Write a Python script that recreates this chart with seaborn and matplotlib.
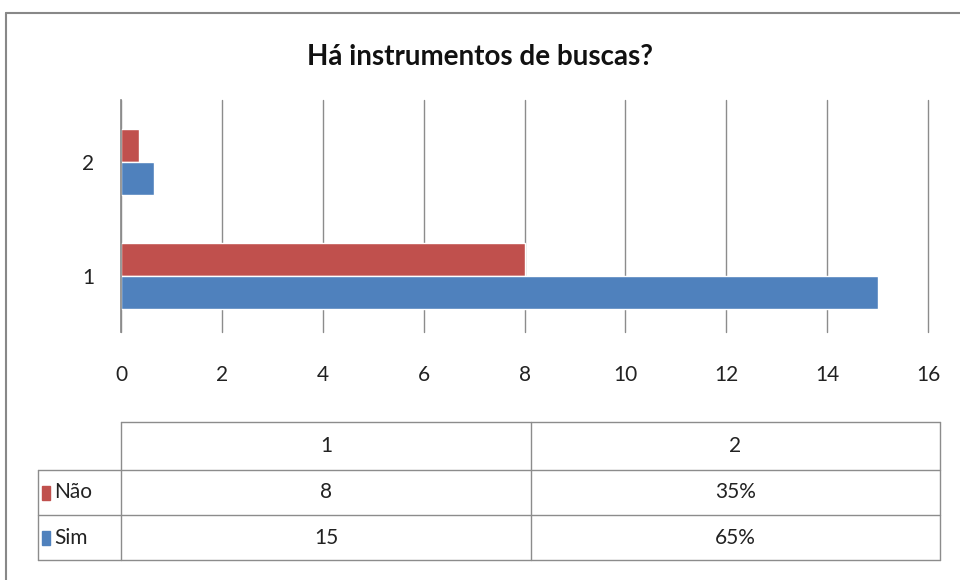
import numpy as np
import pandas as pd
import matplotlib
matplotlib.use("Agg")
import matplotlib.pyplot as plt
from matplotlib.lines import Line2D
from matplotlib.patches import Rectangle
import seaborn as sns

# chart data
categories = ["1", "2"]
series = ["Não", "Sim"]
nao_values = [8, 0.35]
sim_values = [15, 0.65]
table_nao = ["8", "35%"]
table_sim = ["15", "65%"]
x_ticks = [0, 2, 4, 6, 8, 10, 12, 14, 16]
title = "Há instrumentos de buscas?"

colors = {"Não": "#C0504D", "Sim": "#4F81BD"}
grid_col = "#8C8C8C"

df = pd.DataFrame({
    "categoria": categories * 2,
    "serie": ["Não"] * len(categories) + ["Sim"] * len(categories),
    "valor": nao_values + sim_values,
})

sns.set_theme(style="white")
plt.rcParams["font.family"] = ["Lato", "DejaVu Sans"]

W, H = 960, 580
fig = plt.figure(figsize=(W / 100, H / 100), dpi=100)

def px_axes(x0, y0, x1, y1):
    return fig.add_axes([x0 / W, 1 - y1 / H, (x1 - x0) / W, (y1 - y0) / H])

ax = px_axes(121, 100, 928, 332)
sns.barplot(data=df, y="categoria", x="valor", hue="serie",
            order=categories[::-1], hue_order=series, palette=colors,
            orient="h", width=0.58, saturation=1, ax=ax, legend=False)
ax.set_xlim(0, 16)
ax.set_ylim(1.49, -0.544)
ax.set_xticks(x_ticks)
ax.set_xticklabels([str(t) for t in x_ticks])
ax.set_xlabel("")
ax.set_ylabel("")
for t in x_ticks:
    ax.axvline(t, color=grid_col, lw=1, zorder=0, clip_on=False)
for s in ["top", "right", "bottom"]:
    ax.spines[s].set_visible(False)
ax.spines["left"].set_color(grid_col)
ax.tick_params(axis="x", length=0, pad=24, labelsize=15, colors="#222222")
ax.tick_params(axis="y", length=0, pad=19, labelsize=15, colors="#222222")

fig.text(480 / W, 1 - 57 / H, title, ha="center", va="center",
         fontsize=20, fontweight="bold", color="#111111")

# outer chart border
fig.add_artist(Line2D([6 / W, 6 / W], [0, 1 - 13 / H], color="#888888", lw=1.5))
fig.add_artist(Line2D([6 / W, 1], [1 - 13 / H, 1 - 13 / H], color="#888888", lw=1.5))

# data table
tab = fig.add_axes([0, 0, 1, 1])
tab.set_xlim(0, W)
tab.set_ylim(H, 0)
tab.axis("off")
col_x = [38, 121, 531, 940]
row_y = [422, 470, 515, 560]
lc = "#8C8C8C"
# header row
tab.plot([col_x[1], col_x[3]], [row_y[0], row_y[0]], color=lc, lw=1)
for yy in row_y[1:]:
    tab.plot([col_x[0], col_x[3]], [yy, yy], color=lc, lw=1)
tab.plot([col_x[0], col_x[0]], [row_y[1], row_y[3]], color=lc, lw=1)
for xx in col_x[1:]:
    tab.plot([xx, xx], [row_y[0], row_y[3]], color=lc, lw=1)

for j, cat in enumerate(categories):
    cx = (col_x[j + 1] + col_x[j + 2]) / 2
    tab.text(cx, (row_y[0] + row_y[1]) / 2, cat, ha="center", va="center",
             fontsize=15, color="#222222")
rows = [("Não", table_nao), ("Sim", table_sim)]
for i, (name, vals) in enumerate(rows):
    cy = (row_y[i + 1] + row_y[i + 2]) / 2
    tab.add_patch(Rectangle((42, cy - 7), 8, 14, color=colors[name]))
    tab.text(54, cy, name, ha="left", va="center", fontsize=15, color="#222222")
    for j, v in enumerate(vals):
        cx = (col_x[j + 1] + col_x[j + 2]) / 2
        tab.text(cx, cy, v, ha="center", va="center", fontsize=15, color="#222222")

fig.savefig("out.png", dpi=100)
